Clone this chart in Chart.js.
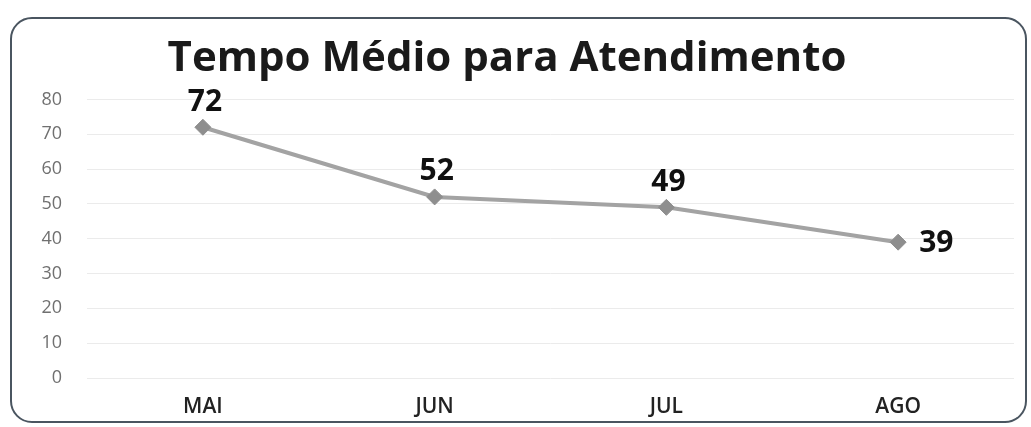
<!DOCTYPE html>
<html>
<head>
<meta charset="utf-8">
<script src="https://cdn.jsdelivr.net/npm/chart.js@4"></script>
<style>
    body { margin: 0; background: #fff; }
    #wrap { position: relative; width: 1031px; height: 427px; overflow: hidden; }
    #frame {
        position: absolute; left: 10px; top: 17px; width: 1013px; height: 402px;
        border: 2px solid #4a5560; border-radius: 22px;
    }
    canvas { position: absolute; left: 0; top: 0; }
</style>
</head>
<body>
<div id="wrap">
    <div id="frame"></div>
    <canvas id="tempo" width="1031" height="427"></canvas>
</div>
<script>
// dados do grafico
var meses = ["MAI", "JUN", "JUL", "AGO"];
var tempo_medio = [72, 52, 49, 39];
var y_ticks = [0, 10, 20, 30, 40, 50, 60, 70, 80];
var titulo = "Tempo Médio para Atendimento";

// rotulos de valor em cima de cada ponto (o ultimo fica a direita)
var rotulos_plugin = {
    id: 'rotulos',
    afterDatasetsDraw: function (chart) {
        var ctx = chart.ctx;
        var meta = chart.getDatasetMeta(0);
        ctx.save();
        ctx.font = "bold 30px 'Open Sans'";
        ctx.fillStyle = "#111";
        ctx.textBaseline = "middle";
        meta.data.forEach(function (pt, i) {
            var v = chart.data.datasets[0].data[i];
            if (i == meta.data.length - 1) {
                ctx.textAlign = "left";
                ctx.fillText(v, pt.x + 21, pt.y + 1);
            } else {
                ctx.textAlign = "center";
                ctx.fillText(v, pt.x + 2, pt.y - 25);
            }
        });
        ctx.restore();
    }
};

function build_graph_tempo() {

    var ctx = document.getElementById("tempo");

    var data = {
        labels: meses,
        datasets: [
            {
                label: "Tempo médio",
                data: tempo_medio,
                fill: false,
                tension: 0,
                borderColor: "#a3a3a3",
                borderWidth: 4,
                pointStyle: 'rectRot',
                pointRadius: 8,
                pointBackgroundColor: "#8e8e8e",
                pointBorderColor: "#8e8e8e",
                pointBorderWidth: 1
            }
        ]
    };

    var option = {
        responsive: false,
        animation: false,
        layout: { padding: { top: 34, left: 0, right: 17, bottom: 0 } },
        plugins: {
            legend: { display: false },
            tooltip: { enabled: false },
            title: {
                display: true,
                text: titulo,
                color: "#1a1a1a",
                font: { family: "'Open Sans'", size: 42, weight: 'bold' },
                padding: { top: 0, bottom: 15 }
            }
        },
        scales: {
            x: {
                offset: true,
                grid: { display: false, drawTicks: false },
                border: { display: false },
                ticks: {
                    color: "#222",
                    font: { family: "'Open Sans'", size: 21, weight: '600' },
                    padding: 16
                },
                afterFit: function (scale) { scale.height = 49; }
            },
            y: {
                min: 0,
                max: 80,
                afterBuildTicks: function (scale) {
                    scale.ticks = y_ticks.map(function (v) { return { value: v }; });
                },
                grid: { color: "#ebebeb", lineWidth: 1, drawTicks: false },
                border: { display: false },
                ticks: {
                    color: "#707070",
                    font: { family: "'Open Sans'", size: 18 },
                    padding: 25
                },
                afterFit: function (scale) { scale.width = 87; }
            }
        }
    };

    var lineChart = new Chart(ctx, {
        type: 'line',
        data: data,
        options: option,
        plugins: [rotulos_plugin]
    });
}

build_graph_tempo();
</script>
</body>
</html>
